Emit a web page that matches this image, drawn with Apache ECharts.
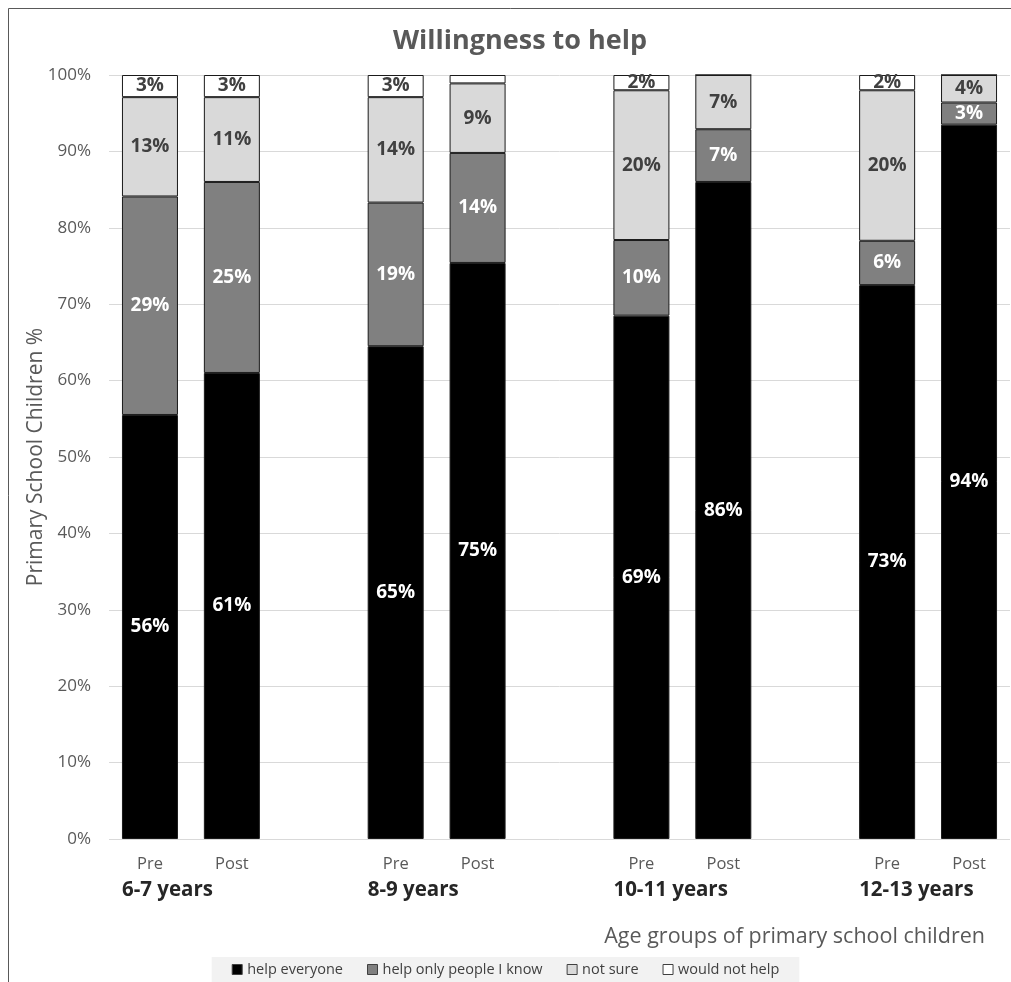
<!DOCTYPE html>
<html>
<head>
<meta charset="utf-8">
<script src="https://cdn.jsdelivr.net/npm/echarts@6/dist/echarts.min.js"></script>
<style>
  html, body { margin: 0; padding: 0; background: #fff; }
  #chart { width: 1011px; height: 982px; }
</style>
</head>
<body>
<div id="chart"></div>
<script>
  // categories
  const groups = ["6-7 years", "8-9 years", "10-11 years", "12-13 years"]
  const phases = ["Pre", "Post"]

  // values in %, order: Pre, Post for each group
  const helpEveryone = [55.5, 61.0, 64.5, 75.4, 68.5, 86.0, 72.5, 93.5]
  const helpKnown = [28.6, 25.0, 18.8, 14.4, 9.9, 6.9, 5.8, 2.9]
  const notSure = [13.0, 11.1, 13.8, 9.1, 19.6, 7.1, 19.7, 3.6]
  const wouldNot = [2.9, 2.9, 2.9, 1.1, 2.0, 0, 2.0, 0]

  const yTicks = [0, 10, 20, 30, 40, 50, 60, 70, 80, 90, 100]

  // spread pairs with an empty slot between groups
  function spread(arr, blank) {
    const out = []
    groups.forEach((g, gi) => {
      phases.forEach((p, pi) => out.push(arr[gi * phases.length + pi]))
      if (gi < groups.length - 1) out.push(blank)
    })
    return out
  }

  const phaseLabels = spread(groups.flatMap(() => phases), "")
  const groupLabels = spread(groups.flatMap(g => [g, ""]), "")

  const font = "'Open Sans', sans-serif"

  function labelFmt(p) {
    return typeof p.value === "number" && p.value >= 1.5 ? Math.round(p.value) + "%" : ""
  }

  function makeSeries(name, data, color, textColor) {
    return {
      name: name,
      type: "bar",
      stack: "all",
      barWidth: 56,
      data: spread(data, "-"),
      itemStyle: { color: color, borderColor: "#1a1a1a", borderWidth: 1 },
      label: {
        show: true,
        position: "inside",
        formatter: labelFmt,
        color: textColor,
        fontFamily: font,
        fontWeight: "bold",
        fontSize: 19
      }
    }
  }

  const chart = echarts.init(document.getElementById("chart"))
  chart.setOption({
    animation: false,
    textStyle: { fontFamily: font },
    graphic: [
      {
        type: "rect",
        shape: { x: 8.5, y: 8.5, width: 1100, height: 1100 },
        style: { fill: "none", stroke: "#595959", lineWidth: 1 },
        silent: true
      }
    ],
    title: [
      {
        text: "Willingness to help",
        left: 388,
        top: 23,
        textStyle: { fontFamily: font, fontSize: 27, fontWeight: "bold", color: "#595959" }
      },
      {
        text: "Age groups of primary school children",
        right: 21,
        top: 921,
        textStyle: { fontFamily: font, fontSize: 21.5, fontWeight: "normal", color: "#595959" }
      }
    ],
    legend: {
      bottom: 0,
      left: "center",
      backgroundColor: "#f2f2f2",
      padding: [5, 20, 5, 20],
      icon: "rect",
      itemWidth: 10,
      itemHeight: 10,
      itemGap: 24,
      textStyle: { fontFamily: font, fontSize: 14.5, color: "#404040" },
      itemStyle: { borderColor: "#404040", borderWidth: 1 },
      data: ["help everyone", "help only people I know", "not sure", "would not help"]
    },
    grid: { left: 109, right: 1, top: 75, bottom: 143 },
    xAxis: [
      {
        type: "category",
        data: phaseLabels,
        axisLine: { show: false },
        axisTick: { show: false },
        axisLabel: { interval: 0, margin: 17, fontSize: 16.5, color: "#595959" }
      },
      {
        type: "category",
        data: groupLabels,
        position: "bottom",
        axisLine: { show: false },
        axisTick: { show: false },
        axisLabel: {
          interval: 0,
          margin: 41,
          formatter: v => (v ? "{g|" + v + "}" : ""),
          rich: {
            g: { width: 56, align: "left", fontSize: 20.5, fontWeight: "bold", color: "#262626", fontFamily: font }
          }
        }
      }
    ],
    yAxis: {
      type: "value",
      min: yTicks[0],
      max: yTicks[yTicks.length - 1],
      interval: yTicks[1] - yTicks[0],
      name: "Primary School Children %",
      nameLocation: "middle",
      nameGap: 62,
      nameMoveOverlap: false,
      nameTextStyle: { fontSize: 21, color: "#595959", fontFamily: font },
      axisLine: { show: false },
      axisTick: { show: false },
      axisLabel: { formatter: "{value}%", fontSize: 17, color: "#595959", margin: 18 },
      splitLine: { lineStyle: { color: "#d9d9d9", width: 1 } }
    },
    series: [
      makeSeries("help everyone", helpEveryone, "#000000", "#ffffff"),
      makeSeries("help only people I know", helpKnown, "#808080", "#ffffff"),
      makeSeries("not sure", notSure, "#d9d9d9", "#404040"),
      makeSeries("would not help", wouldNot, "#ffffff", "#404040")
    ]
  })
</script>
</body>
</html>
